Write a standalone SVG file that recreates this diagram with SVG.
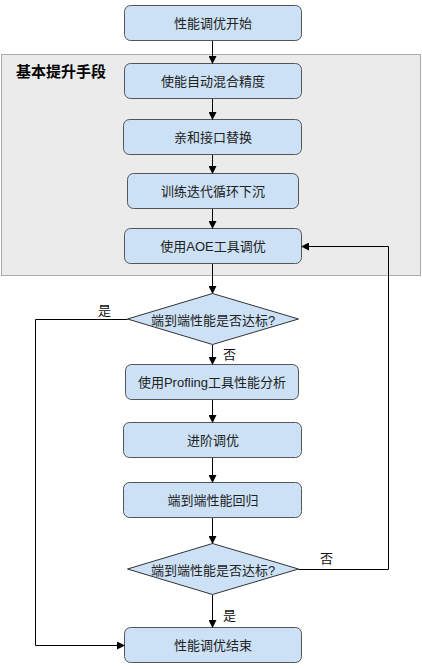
<svg xmlns="http://www.w3.org/2000/svg" width="422" height="669" viewBox="0 0 422 669">
<defs>
<marker id="ah" markerWidth="8" markerHeight="8" refX="7" refY="4" orient="auto" markerUnits="userSpaceOnUse">
<path d="M0,0 L8,4 L0,8 Z" fill="#000"/>
</marker>
<style>
.box{fill:#cce1f6;stroke:#555;stroke-width:1}
.dia{fill:#cce1f6;stroke:#333;stroke-width:1}
.t{font-family:"Liberation Sans","Noto Sans CJK SC",sans-serif;font-size:13px;fill:#222;text-anchor:middle;dominant-baseline:central}
.lbl{font-family:"Noto Sans CJK SC",sans-serif;font-size:13px;fill:#111}
.c{fill:none;stroke:#000;stroke-width:1;marker-end:url(#ah)}
</style>
</defs>
<rect width="422" height="669" fill="#fff"/>
<g id="group">
<rect x="1.5" y="54.5" width="419" height="221" fill="#ebebeb" stroke="#aaa"/>
<text x="16" y="77" font-family="Noto Sans CJK SC,sans-serif" font-size="15" font-weight="bold" fill="#000">基本提升手段</text>
</g>
<g id="n1"><rect class="box" x="124.5" y="5.5" width="177" height="35" rx="6"/><text class="t" x="213" y="23">性能调优开始</text></g>
<g id="n2"><rect class="box" x="124.5" y="63.5" width="177" height="35" rx="6"/><text class="t" x="213" y="81">使能自动混合精度</text></g>
<g id="n3"><rect class="box" x="123.5" y="119.5" width="178" height="35" rx="6"/><text class="t" x="213" y="137">亲和接口替换</text></g>
<g id="n4"><rect class="box" x="127.5" y="173.5" width="171" height="35" rx="6"/><text class="t" x="213" y="191">训练迭代循环下沉</text></g>
<g id="n5"><rect class="box" x="124.5" y="228.5" width="177" height="35" rx="6"/><text class="t" x="213" y="246">使用AOE工具调优</text></g>
<g id="d1"><polygon class="dia" points="127.5,319 212.5,293.5 298.5,319 212.5,344.5"/><text class="t" x="213" y="320">端到端性能是否达标?</text></g>
<g id="n6"><rect class="box" x="125.5" y="364.5" width="173" height="35" rx="6"/><text class="t" x="212" y="382">使用Profling工具性能分析</text></g>
<g id="n7"><rect class="box" x="123.5" y="422.5" width="178" height="35" rx="6"/><text class="t" x="213" y="440">进阶调优</text></g>
<g id="n8"><rect class="box" x="123.5" y="482.5" width="178" height="35" rx="6"/><text class="t" x="213" y="500">端到端性能回归</text></g>
<g id="d2"><polygon class="dia" points="127.5,569 212.5,543.5 298.5,569 212.5,594.5"/><text class="t" x="213" y="570">端到端性能是否达标?</text></g>
<g id="n9"><rect class="box" x="124.5" y="627.5" width="177" height="35" rx="6"/><text class="t" x="213" y="645">性能调优结束</text></g>
<g id="connectors">
<path class="c" d="M212.5,41 V63"/>
<path class="c" d="M212.5,99 V119"/>
<path class="c" d="M212.5,155 V173"/>
<path class="c" d="M212.5,209 V228"/>
<path class="c" d="M212.5,264 V293"/>
<path class="c" d="M212.5,345 V364"/>
<path class="c" d="M212.5,400 V422"/>
<path class="c" d="M212.5,458 V482"/>
<path class="c" d="M212.5,518 V543"/>
<path class="c" d="M212.5,595 V627"/>
<path class="c" d="M127.5,319.5 H35.5 V645.5 H124"/>
<path class="c" d="M298.5,569.5 H388.5 V246.5 H302"/>
<text class="lbl" x="98" y="315">是</text>
<text class="lbl" x="223" y="359">否</text>
<text class="lbl" x="320" y="563">否</text>
<text class="lbl" x="223" y="620">是</text>
</g>
</svg>
